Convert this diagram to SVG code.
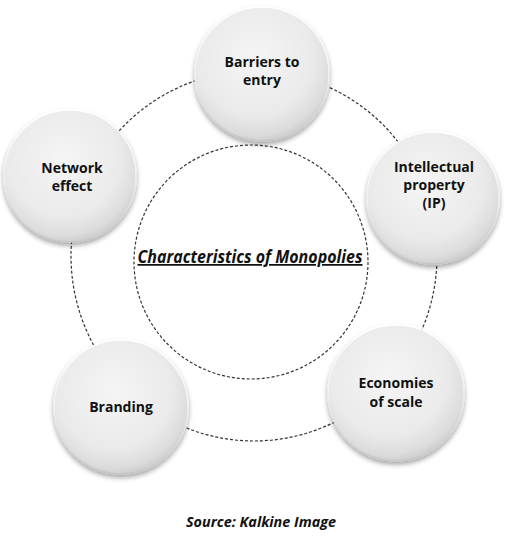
<svg xmlns="http://www.w3.org/2000/svg" width="507" height="541" viewBox="0 0 507 541">
<defs>
<radialGradient id="ball" cx="45%" cy="38%" r="62%">
<stop offset="0" stop-color="#f5f5f5"/>
<stop offset="0.7" stop-color="#eaeaea"/>
<stop offset="0.92" stop-color="#dcdcdc"/>
<stop offset="1" stop-color="#cfcfcf"/>
</radialGradient>
<linearGradient id="rim" x1="0" y1="0" x2="0" y2="1">
<stop offset="0" stop-color="#ffffff"/>
<stop offset="0.5" stop-color="#f0f0f0"/>
<stop offset="1" stop-color="#c4c4c4"/>
</linearGradient>
<filter id="sh" x="-20%" y="-20%" width="140%" height="145%">
<feGaussianBlur in="SourceAlpha" stdDeviation="2.5"/>
<feOffset dx="0" dy="3" result="b"/>
<feComponentTransfer><feFuncA type="linear" slope="0.35"/></feComponentTransfer>
<feMerge><feMergeNode/><feMergeNode in="SourceGraphic"/></feMerge>
</filter>
</defs>
<style>
.dash{fill:none;stroke:#333;stroke-width:1.2;stroke-dasharray:3 2}
.node{fill:url(#ball);stroke:url(#rim);stroke-width:1.5;filter:url(#sh)}
.lbl{font-family:"Open Sans","Liberation Sans",sans-serif;font-weight:bold;font-size:14px;fill:#111;text-anchor:middle}
.title{font-family:"Open Sans","Liberation Sans",sans-serif;font-weight:bold;font-style:italic;font-size:17.5px;fill:#111;text-anchor:middle;text-decoration:underline}
.src{font-family:"Open Sans","Liberation Sans",sans-serif;font-weight:bold;font-style:italic;font-size:14px;fill:#111;text-anchor:middle}
</style>
<rect width="507" height="541" fill="#fff"/>
<g id="connectors">
<ellipse class="dash" cx="254" cy="256" rx="183" ry="185"/>
</g>
<g id="center">
<circle class="dash" cx="251" cy="262" r="117"/>
<text class="title" x="250" y="263" textLength="225" lengthAdjust="spacingAndGlyphs">Characteristics of Monopolies</text>
</g>
<g id="barriers">
<circle class="node" cx="262" cy="74" r="67"/>
<text class="lbl" x="262" y="67">Barriers to</text>
<text class="lbl" x="262" y="85">entry</text>
</g>
<g id="network">
<circle class="node" cx="70" cy="176" r="66"/>
<text class="lbl" x="72" y="173">Network</text>
<text class="lbl" x="72" y="191">effect</text>
</g>
<g id="ip">
<circle class="node" cx="433" cy="198" r="66"/>
<text class="lbl" x="434" y="172">Intellectual</text>
<text class="lbl" x="434" y="190">property</text>
<text class="lbl" x="434" y="208">(IP)</text>
</g>
<g id="branding">
<circle class="node" cx="121" cy="407" r="67"/>
<text class="lbl" x="121" y="412">Branding</text>
</g>
<g id="economies">
<circle class="node" cx="396" cy="393" r="68"/>
<text class="lbl" x="396" y="388">Economies</text>
<text class="lbl" x="396" y="407">of scale</text>
</g>
<text class="src" x="261" y="527" textLength="150" lengthAdjust="spacingAndGlyphs">Source: Kalkine Image</text>
</svg>
